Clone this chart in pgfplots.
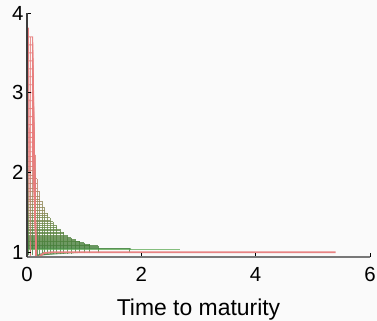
\documentclass[border=0pt]{standalone}
\usepackage{fontspec}
\setmainfont{Liberation Sans}
\usepackage{pgfplots}
\pgfplotsset{compat=1.18}
\definecolor{bg}{RGB}{250,250,250}
\definecolor{rr}{RGB}{232,125,125}
\definecolor{gd}{RGB}{70,135,65}
\definecolor{gl}{RGB}{95,170,85}
\definecolor{axg}{RGB}{120,120,120}
\definecolor{axd}{RGB}{60,60,60}
\pgfplotsset{
  rowsty/.style={mesh, point meta=y, opacity=0.8, line width=0.9pt, forget plot},
  colsty/.style={mesh, point meta=y, opacity=0.8, line width=0.9pt, forget plot},
  redrow/.style={draw=rr, opacity=0.85, line width=0.9pt, forget plot},
}
\newcommand\rw[2]{\addplot[rowsty] coordinates {(0,#1) (#2,#1)};}
\newcommand\rdr[1]{\addplot[redrow] coordinates {(0,#1) (0.10,#1) (0.16,0.95)};}
\newcommand\colm[1]{\addplot[colsty] coordinates {#1};}
\begin{document}
\begin{tikzpicture}
\path[fill=bg, use as bounding box] (-27bp,-64bp) rectangle (350bp,257bp);
\begin{axis}[
  scale only axis, width=343bp, height=244bp,
  xmin=0, xmax=6, ymin=0.94, ymax=4,
  axis x line=bottom, axis y line=left,
  axis line style={-},
  x axis line style={draw=axg, line width=1.5pt},
  y axis line style={draw=axd, line width=1.2pt},
  axis on top,
  tick align=inside,
  major tick length=4bp,
  tick style={black, line width=0.8pt},
  xtick={0,2,4,6}, ytick={1,2,3,4},
  /pgf/number format/assume math mode=true,
  tick label style={font=\fontsize{20.5}{20.5}\selectfont},
  xticklabel style={yshift=-7bp},
  xlabel={Time to maturity},
  xlabel style={font=\fontsize{23}{23}\selectfont, at={(axis description cs:0.5,0)}, anchor=center, yshift=-53bp},
  point meta min=1, point meta max=3.8,
  colormap={mymap}{rgb255(0cm)=(60,125,55); rgb255(3cm)=(100,135,70); rgb255(6cm)=(150,135,90); rgb255(9cm)=(195,130,110); rgb255(12cm)=(228,125,120); rgb255(28cm)=(232,125,125)},
]
% columns
\colm{(0.025,0.96)(0.025,1.15)(0.025,1.3)(0.025,1.45)(0.025,1.6)(0.025,1.75)(0.025,1.9)(0.025,2.05)(0.025,2.2)(0.025,2.4)(0.025,3.81)}
\colm{(0.06,0.96)(0.06,1.15)(0.06,1.3)(0.06,1.45)(0.06,1.6)(0.06,1.75)(0.06,1.9)(0.06,2.05)(0.06,2.2)(0.06,2.4)(0.06,3.70)}
\colm{(0.10,0.96)(0.10,1.15)(0.10,1.3)(0.10,1.45)(0.10,1.6)(0.10,1.75)(0.10,1.9)(0.10,2.05)(0.10,2.2)(0.10,2.4)(0.10,3.70)}
\colm{(0.14,0.96)(0.14,1.15)(0.14,1.3)(0.14,1.45)(0.14,1.6)(0.14,1.75)(0.14,1.9)(0.14,2.05)(0.14,2.22)}
\colm{(0.18,0.96)(0.18,1.15)(0.18,1.3)(0.18,1.45)(0.18,1.6)(0.18,1.75)(0.18,1.92)}
\colm{(0.22,0.97)(0.22,1.15)(0.22,1.3)(0.22,1.45)(0.22,1.6)(0.22,1.76)}
\colm{(0.27,0.97)(0.27,1.15)(0.27,1.3)(0.27,1.45)(0.27,1.64)}
\colm{(0.31,0.97)(0.31,1.15)(0.31,1.3)(0.31,1.45)(0.31,1.56)}
\colm{(0.36,0.98)(0.36,1.15)(0.36,1.3)(0.36,1.49)}
\colm{(0.41,0.98)(0.41,1.15)(0.41,1.3)(0.41,1.43)}
\colm{(0.46,0.98)(0.46,1.15)(0.46,1.3)(0.46,1.38)}
\colm{(0.52,0.98)(0.52,1.15)(0.52,1.33)}
\colm{(0.58,0.98)(0.58,1.15)(0.58,1.29)}
\colm{(0.64,0.98)(0.64,1.15)(0.64,1.25)}
\colm{(0.70,0.98)(0.70,1.21)}
\colm{(0.77,0.98)(0.77,1.18)}
\colm{(0.84,0.99)(0.84,1.16)}
\colm{(0.92,0.99)(0.92,1.14)}
\colm{(1.00,0.99)(1.00,1.12)}
\colm{(1.10,0.99)(1.10,1.10)}
\colm{(1.25,0.99)(1.25,1.08)}
\colm{(1.80,1.00)(1.80,1.045)}
% olive / green rows
\rw{2.20}{0.14} \rw{2.14}{0.14} \rw{2.08}{0.14} \rw{2.02}{0.14} \rw{1.96}{0.14}
\rw{1.92}{0.18} \rw{1.86}{0.18} \rw{1.80}{0.18}
\rw{1.76}{0.22} \rw{1.70}{0.22} \rw{1.66}{0.22}
\rw{1.64}{0.27} \rw{1.60}{0.27}
\rw{1.56}{0.31} \rw{1.52}{0.31}
\rw{1.49}{0.36} \rw{1.46}{0.36}
\rw{1.43}{0.41} \rw{1.40}{0.41}
\rw{1.38}{0.46} \rw{1.355}{0.46}
\rw{1.33}{0.52} \rw{1.31}{0.52}
\rw{1.29}{0.58} \rw{1.27}{0.58}
\rw{1.25}{0.64} \rw{1.23}{0.64}
\rw{1.21}{0.70} \rw{1.195}{0.70}
\rw{1.18}{0.77} \rw{1.17}{0.77}
\rw{1.16}{0.84} \rw{1.15}{0.84}
\rw{1.14}{0.92} \rw{1.13}{0.92}
\rw{1.12}{1.00} \rw{1.11}{1.00}
\rw{1.10}{1.10} \rw{1.09}{1.10}
\rw{1.08}{1.25} \rw{1.07}{1.25} \rw{1.06}{1.25}
\addplot[draw=gd, opacity=0.9, line width=1pt, forget plot] coordinates {(0,1.045) (1.80,1.045) (1.82,1.035)};
\addplot[draw=gl, opacity=0.75, line width=1pt, forget plot] coordinates {(0,1.035) (2.68,1.035)};
% green fan below 1
\addplot[draw=gd, opacity=0.6, line width=0.8pt, forget plot] coordinates {(0.14,0.95) (0.30,1.0)};
\addplot[draw=gd, opacity=0.6, line width=0.8pt, forget plot] coordinates {(0.14,0.95) (0.45,1.0)};
\addplot[draw=gd, opacity=0.6, line width=0.8pt, forget plot] coordinates {(0.16,0.955) (0.60,1.0)};
\addplot[draw=gd, opacity=0.6, line width=0.8pt, forget plot] coordinates {(0.18,0.96) (0.80,1.0)};
\addplot[draw=gd, opacity=0.6, line width=0.8pt, forget plot] coordinates {(0.20,0.965) (1.00,1.0)};
% red rows
\addplot[redrow] coordinates {(0,3.81) (0.025,3.81) (0.06,0.95)};
\rdr{3.70} \rdr{3.60} \rdr{3.50} \rdr{3.40} \rdr{3.30} \rdr{3.20} \rdr{3.10}
\rdr{3.00} \rdr{2.90} \rdr{2.80} \rdr{2.70} \rdr{2.60} \rdr{2.50}
\rdr{2.44} \rdr{2.38} \rdr{2.32} \rdr{2.26}
% red tail
\addplot[draw=rr, opacity=0.95, line width=1.8pt, forget plot] coordinates {(0.16,0.95) (0.20,0.94) (0.30,0.99) (0.45,1.0) (5.40,1.0)};
\end{axis}
\end{tikzpicture}
\end{document}
